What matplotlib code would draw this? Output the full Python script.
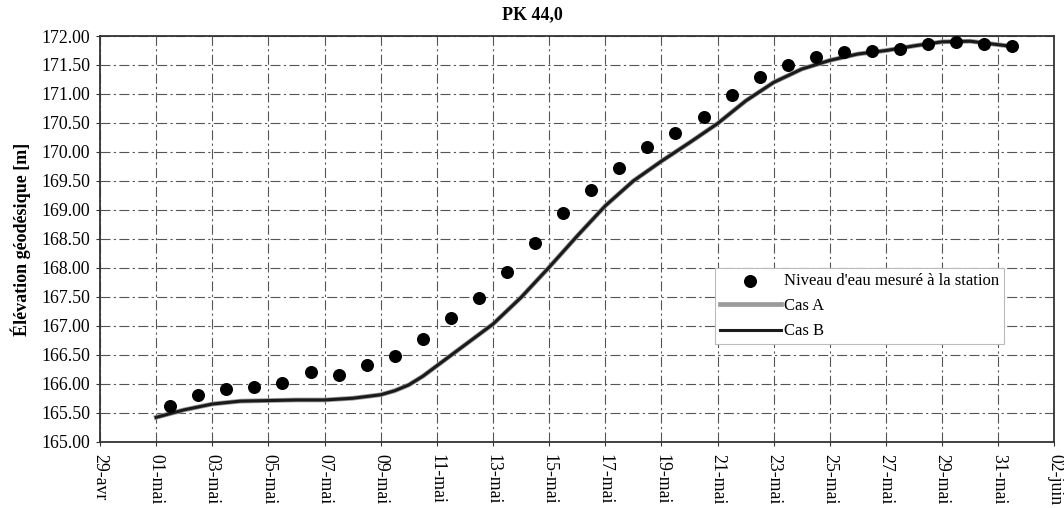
import matplotlib
matplotlib.use("Agg")

import numpy as np
import matplotlib.pyplot as plt

plt.rcParams["font.family"] = ["Liberation Serif", "DejaVu Serif"]

# ── data (x = days since 29-avr) ─────────────────────────────────────────────
tick_days = list(range(0, 35, 2))
tick_labels = ["29-avr", "01-mai", "03-mai", "05-mai", "07-mai", "09-mai",
               "11-mai", "13-mai", "15-mai", "17-mai", "19-mai", "21-mai",
               "23-mai", "25-mai", "27-mai", "29-mai", "31-mai", "02-juin"]

obs_days = [d + 2.5 for d in range(31)]
obs_level = [165.62, 165.80, 165.91, 165.95, 166.02, 166.21, 166.15, 166.32,
             166.48, 166.77, 167.14, 167.48, 167.92, 168.43, 168.94, 169.35,
             169.72, 170.08, 170.33, 170.60, 170.98, 171.29, 171.50, 171.64,
             171.72, 171.75, 171.78, 171.86, 171.90, 171.86, 171.82]

model_days = [2, 3, 4, 5, 6, 7, 8, 9, 10, 10.5, 11, 11.5, 12, 13, 14, 15, 16,
              17, 18, 19, 20, 21, 22, 23, 24, 25, 26, 27, 28, 29, 30, 31, 32,
              32.5]
cas_b = [165.42, 165.55, 165.65, 165.70, 165.71, 165.72, 165.72, 165.75,
         165.81, 165.88, 165.98, 166.13, 166.31, 166.67, 167.03, 167.49,
         168.01, 168.55, 169.07, 169.50, 169.84, 170.16, 170.49, 170.88,
         171.20, 171.43, 171.58, 171.69, 171.75, 171.83, 171.90, 171.91,
         171.85, 171.82]
cas_a = list(cas_b)  # Cas A lies under Cas B on the whole period

# ── figure ───────────────────────────────────────────────────────────────────
fig = plt.figure(figsize=(10.64, 5.08), dpi=100)
ax = fig.add_axes([0.094, 0.1305, 0.897, 0.7986])

grid_style = dict(color="#555555", linewidth=0.8, linestyle=(0, (9, 3, 2, 3)))
ax.set_axisbelow(True)
ax.grid(True, **grid_style)

ax.scatter(obs_days, obs_level, s=70, color="black", zorder=4,
           label="Niveau d'eau mesuré à la station")
ax.plot(model_days, cas_a, color="#9a9a9a", linewidth=3.4, zorder=2, label="Cas A")
ax.plot(model_days, cas_b, color="#1a1a1a", linewidth=2.2, zorder=3, label="Cas B")

ax.set_xlim(0, 34)
ax.set_ylim(165, 172)
ax.set_xticks(tick_days)
ax.set_xticklabels(tick_labels, rotation=-90, ha="center", va="top")
ax.set_yticks(np.arange(165, 172.01, 0.5))
ax.set_yticklabels([f"{v:.2f}" for v in np.arange(165, 172.01, 0.5)])
ax.tick_params(axis="both", labelsize=12.8, length=3, width=0.8, color="#333333")
ax.tick_params(axis="x", pad=6)
ax.tick_params(axis="y", pad=4)

for sp in ax.spines.values():
    sp.set_color("#333333")
    sp.set_linewidth(1.3)

fig.text(0.5, 1 - 15 / 508, "PK 44,0", ha="center", va="center",
         fontsize=13, fontweight="bold")
fig.text(21 / 1064, 1 - 239 / 508, "Élévation géodésique [m]", rotation=90,
         ha="center", va="center", fontsize=13, fontweight="bold")

leg = ax.legend(loc="upper left", bbox_to_anchor=(0.644, 0.428), fontsize=12,
                frameon=True, fancybox=False, framealpha=1, facecolor="white",
                edgecolor="#bbbbbb", handlelength=3.7, handletextpad=0.15,
                labelspacing=0.55, borderpad=0.3, borderaxespad=0,
                scatterpoints=1)
leg.get_frame().set_linewidth(0.8)

fig.savefig("out.png", dpi=100)
